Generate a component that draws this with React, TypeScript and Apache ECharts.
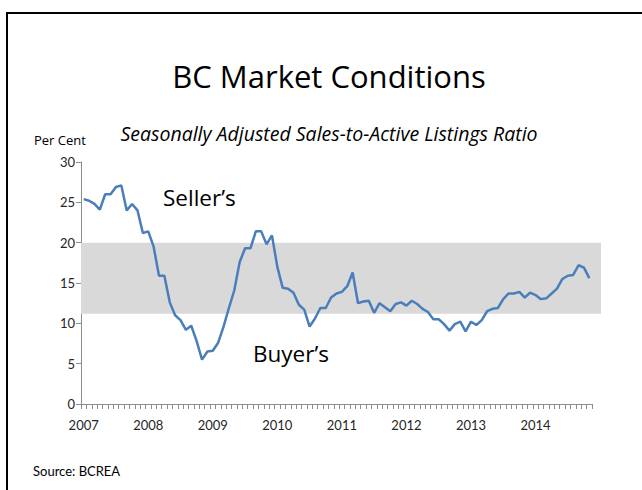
import React, { useEffect, useRef } from "react";
import * as echarts from "echarts";

const years = ["2007", "2008", "2009", "2010", "2011", "2012", "2013", "2014"];
const monthCount = 95; // Jan 2007 .. Nov 2014
const ratio = [
  25.4, 25.2, 24.8, 24.1, 26.0, 26.0, 26.9, 27.1, 24.0, 24.8, 24.0, 21.2,
  21.4, 19.5, 15.9, 15.9, 12.6, 11.0, 10.4, 9.2, 9.7, 7.8, 5.5, 6.5,
  6.6, 7.6, 9.6, 11.9, 14.1, 17.6, 19.3, 19.3, 21.4, 21.4, 19.8, 20.9,
  17.0, 14.4, 14.3, 13.8, 12.3, 11.7, 9.6, 10.6, 11.9, 11.9, 13.2, 13.7,
  13.9, 14.6, 16.3, 12.5, 12.7, 12.8, 11.3, 12.5, 12.0, 11.5, 12.4, 12.6,
  12.2, 12.8, 12.4, 11.8, 11.4, 10.5, 10.5, 9.9, 9.1, 9.9, 10.2, 9.0,
  10.2, 9.8, 10.4, 11.5, 11.8, 11.9, 13.0, 13.7, 13.7, 13.9, 13.2, 13.8,
  13.5, 13.0, 13.1, 13.7, 14.3, 15.5, 15.9, 16.0, 17.2, 16.9, 15.6,
];
const balancedBand = [11.2, 20.0];
const yTicks = { min: 0, max: 30, step: 5 };

const months: string[] = [];
for (let i = 0; i < monthCount; i++) {
  const y = years[Math.floor(i / 12)];
  months.push(`${y}-${String((i % 12) + 1).padStart(2, "0")}`);
}

const FONT = "Lato";
const WIDE = "'Open Sans'";

export default function App() {
  const ref = useRef<HTMLDivElement>(null);
  useEffect(() => {
    document.body.style.margin = "0";
    const chart = echarts.init(ref.current!, null, { renderer: "svg" });
    chart.setOption({
      animation: false,
      backgroundColor: "#ffffff",
      textStyle: { fontFamily: FONT },
      grid: [
        { left: 81, top: 162, width: 511, height: 242 },
        { left: 81, top: 162, width: 520, height: 242 },
      ],
      xAxis: [
        {
          type: "category",
          gridIndex: 0,
          data: months,
          boundaryGap: true,
          axisLine: { lineStyle: { color: "#8c8c8c", width: 1 } },
          axisTick: { show: true, interval: 0, length: 5, lineStyle: { color: "#8c8c8c" } },
          axisLabel: {
            interval: 11,
            formatter: (v: string) => v.slice(0, 4),
            color: "#262626",
            fontSize: 13,
            fontFamily: FONT,
            margin: 14,
          },
          splitLine: { show: false },
        },
        { type: "value", gridIndex: 1, min: 0, max: 1, show: false },
      ],
      yAxis: [
        {
          type: "value",
          gridIndex: 0,
          min: yTicks.min,
          max: yTicks.max,
          interval: yTicks.step,
          axisLine: { show: true, lineStyle: { color: "#8c8c8c", width: 1 } },
          axisTick: { show: true, length: 5, lineStyle: { color: "#8c8c8c" } },
          axisLabel: { color: "#262626", fontSize: 13, fontFamily: FONT, margin: 6 },
          splitLine: { show: false },
        },
        { type: "value", gridIndex: 1, min: yTicks.min, max: yTicks.max, show: false },
      ],
      series: [
        {
          type: "line",
          xAxisIndex: 1,
          yAxisIndex: 1,
          data: [],
          z: 0,
          silent: true,
          markArea: {
            silent: true,
            itemStyle: { color: "#d9d9d9" },
            data: [[{ xAxis: 0, yAxis: balancedBand[0] }, { xAxis: 1, yAxis: balancedBand[1] }]],
          },
        },
        {
          type: "line",
          xAxisIndex: 0,
          yAxisIndex: 0,
          data: ratio,
          symbol: "none",
          z: 5,
          lineStyle: { color: "#4a7ebb", width: 2.5 },
        },
      ],
      graphic: [
        {
          type: "rect",
          shape: { x: 7, y: 13, width: 660, height: 520 },
          style: { fill: "none", stroke: "#000", lineWidth: 2 },
          silent: true,
        },
        {
          type: "text",
          x: 329,
          y: 76,
          style: {
            text: "BC Market Conditions",
            fill: "#000",
            font: `31px ${WIDE}`,
            align: "center",
            verticalAlign: "middle",
          },
        },
        {
          type: "text",
          x: 329,
          y: 133,
          style: {
            text: "Seasonally Adjusted Sales-to-Active Listings Ratio",
            fill: "#000",
            font: `italic 19.5px ${WIDE}`,
            align: "center",
            verticalAlign: "middle",
          },
        },
        {
          type: "text",
          x: 34,
          y: 140,
          style: { text: "Per Cent", fill: "#000", font: `13px ${WIDE}`, verticalAlign: "middle" },
        },
        {
          type: "text",
          x: 163,
          y: 197,
          style: { text: "Seller\u2019s", fill: "#000", font: `22.5px ${WIDE}`, verticalAlign: "middle" },
        },
        {
          type: "text",
          x: 388,
          y: 279,
          style: { text: "Balanced", fill: "#000", font: `22px ${WIDE}`, verticalAlign: "middle" },
        },
        {
          type: "text",
          x: 253,
          y: 353,
          style: { text: "Buyer\u2019s", fill: "#000", font: `22.5px ${WIDE}`, verticalAlign: "middle" },
        },
        {
          type: "text",
          x: 33,
          y: 471,
          style: { text: "Source: BCREA", fill: "#000", font: `13px ${FONT}`, verticalAlign: "middle" },
        },
      ],
    });
    return () => chart.dispose();
  }, []);
  return <div ref={ref} style={{ width: 642, height: 490, position: "absolute", left: 0, top: 0 }} />;
}
